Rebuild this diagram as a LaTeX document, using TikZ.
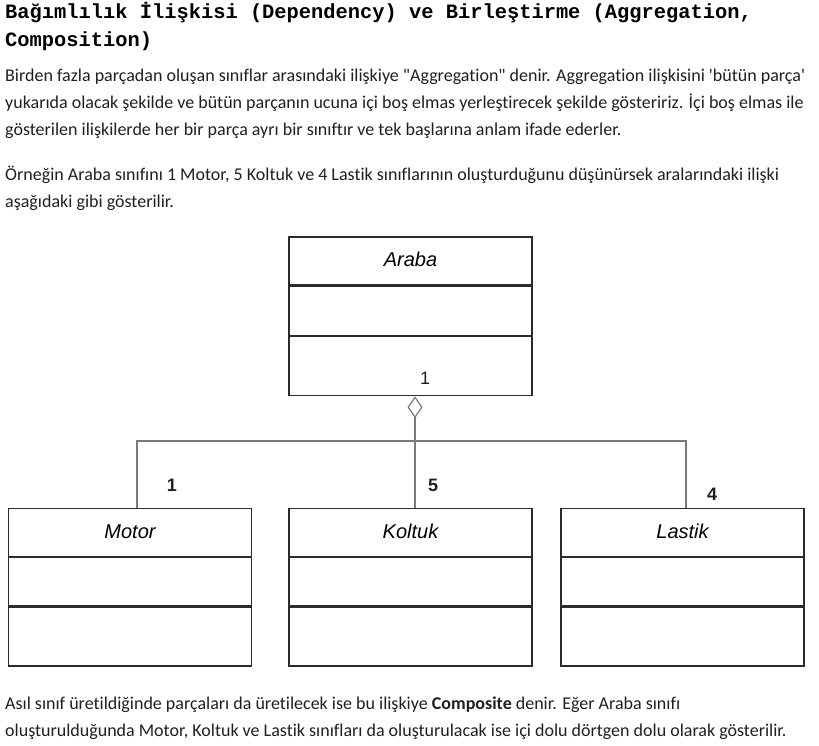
\documentclass[tikz,border=0pt]{standalone}
\usepackage{fontspec}
\setmainfont{Carlito}[Ligatures={TeXOff,NoCommon}]
\newfontfamily\titlefont{Liberation Mono}
\newfontfamily\umlfont{Liberation Sans}
\usetikzlibrary{positioning,arrows.meta}
\definecolor{text-ink}{HTML}{1F1F1F}
\definecolor{box-ink}{HTML}{2B2B2B}
\definecolor{link-ink}{HTML}{7A7A7A}
\tikzset{
    class-name/.style = {draw=box-ink, line width=1.3pt, rectangle, minimum width=243pt, minimum height=48pt, inner sep=0pt, font=\umlfont\itshape\fontsize{20}{24}\selectfont},
    class-part/.style = {draw=box-ink, line width=1.3pt, rectangle, minimum width=243pt, inner sep=0pt},
    mult-label/.style = {font=\umlfont\fontsize{18}{20}\selectfont, inner sep=0pt, text=text-ink},
    link-line/.style = {draw=link-ink, line width=1.2pt},
    para-text/.style = {anchor=north west, align=left, inner sep=0pt, text=text-ink, font=\fontsize{18}{27}\selectfont},
}

\begin{document}
\begin{tikzpicture}[x=1pt, y=-1pt]
\useasboundingbox (0,0) rectangle (819,745);

\node[anchor=north west, align=left, inner sep=0pt, font=\titlefont\bfseries\fontsize{20.4}{28}\selectfont] (title) at (5,2)
    {Bağımlılık İlişkisi (Dependency) ve Birleştirme (Aggregation,\\Composition)};
\node[para-text] (intro-text) at (5,69)
    {Birden fazla parçadan oluşan sınıflar arasındaki ilişkiye "Aggregation" denir. Aggregation ilişkisini 'bütün parça'\\
     yukarıda olacak şekilde ve bütün parçanın ucuna içi boş elmas yerleştirecek şekilde gösteririz. İçi boş elmas ile\\
     gösterilen ilişkilerde her bir parça ayrı bir sınıftır ve tek başlarına anlam ifade ederler.};
\node[para-text] (example-text) at (5,166)
    {Örneğin Araba sınıfını 1 Motor, 5 Koltuk ve 4 Lastik sınıflarının oluşturduğunu düşünürsek aralarındaki ilişki\\
     aşağıdaki gibi gösterilir.};

% whole
\node[class-name] (araba) at (410.5,261) {\raisebox{3pt}{Araba}};
\node[class-part, minimum height=49pt, below=0pt of araba] (araba-attr) {};
\node[class-part, minimum height=59pt, below=0pt of araba-attr] (araba-ops) {};

% parts
\node[class-name] (motor) at (130,532.5) {\raisebox{2pt}{Motor}};
\node[class-part, minimum height=48pt, below=0pt of motor] (motor-attr) {};
\node[class-part, minimum height=59pt, below=0pt of motor-attr] (motor-ops) {};

\node[class-name] (koltuk) at (410.5,532.5) {\raisebox{2pt}{Koltuk}};
\node[class-part, minimum height=48pt, below=0pt of koltuk] (koltuk-attr) {};
\node[class-part, minimum height=59pt, below=0pt of koltuk-attr] (koltuk-ops) {};

\node[class-name] (lastik) at (682.5,532.5) {\raisebox{2pt}{Lastik}};
\node[class-part, minimum height=48pt, below=0pt of lastik] (lastik-attr) {};
\node[class-part, minimum height=59pt, below=0pt of lastik-attr] (lastik-ops) {};

% aggregation
\coordinate (join) at ([xshift=4.5pt]araba-ops.south |- 0,441);
\draw[link-line, {Diamond[open, length=22pt, width=15pt]}-] ([xshift=4.5pt]araba-ops.south) -- (join);
\draw[link-line] (join) -| ([xshift=7pt]motor.north);
\draw[link-line] (join) -- ([xshift=4.5pt]koltuk.north);
\draw[link-line] (join) -| ([xshift=3.5pt]lastik.north);

\node[mult-label] (araba-mult) at (425,378) {1};
\node[mult-label, font=\umlfont\bfseries\fontsize{18}{20}\selectfont] (motor-mult) at (172,485) {1};
\node[mult-label, font=\umlfont\bfseries\fontsize{18}{20}\selectfont] (koltuk-mult) at (433,485) {5};
\node[mult-label, font=\umlfont\bfseries\fontsize{18}{20}\selectfont] (lastik-mult) at (712,494) {4};

\node[para-text] (composite-text) at (5,697)
    {Asıl sınıf üretildiğinde parçaları da üretilecek ise bu ilişkiye \textbf{Composite} denir. Eğer Araba sınıfı\\
     oluşturulduğunda Motor, Koltuk ve Lastik sınıfları da oluşturulacak ise içi dolu dörtgen dolu olarak gösterilir.};
\end{tikzpicture}
\end{document}
